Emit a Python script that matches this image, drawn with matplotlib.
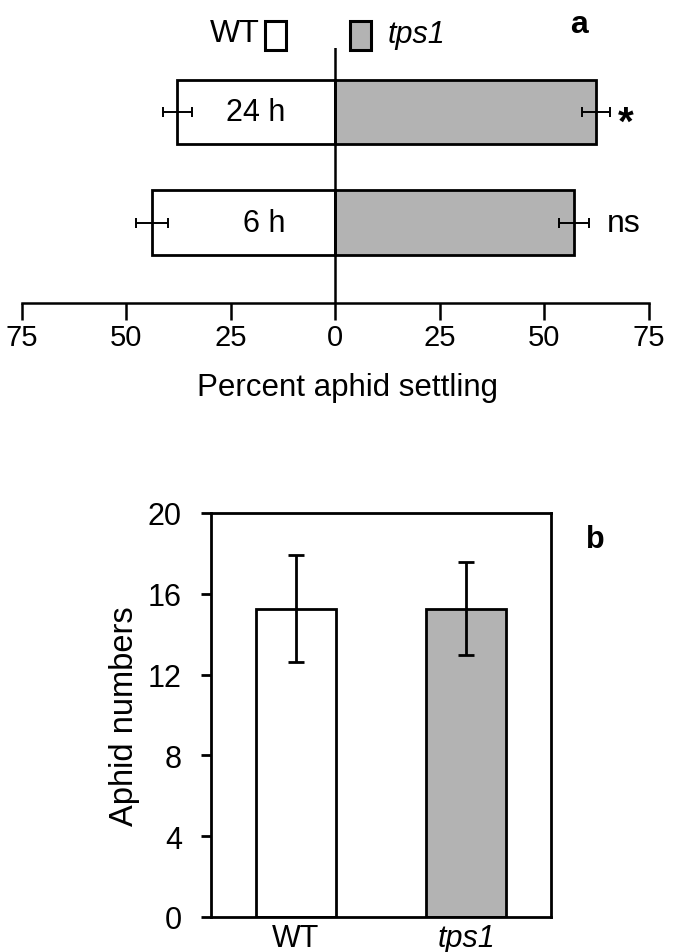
import numpy as np
import matplotlib
matplotlib.use("Agg")
import matplotlib.pyplot as plt
from matplotlib.patches import Rectangle

plt.rcParams['font.family'] = ['Liberation Sans', 'DejaVu Sans']

# panel a: percent aphid settling (WT left, tps1 right)
times = ["6 h", "24 h"]
wt_settle = [43.8, 37.8]
wt_settle_err = [3.8, 3.5]
tps1_settle = [57.2, 62.4]
tps1_settle_err = [3.6, 3.4]
signif = ["ns", "*"]
a_ticks = [-75, -50, -25, 0, 25, 50, 75]

# panel b: aphid numbers
genotypes = ["WT", "tps1"]
aphid_num = [15.25, 15.25]
aphid_err = [2.65, 2.3]
b_ticks = [0, 4, 8, 12, 16, 20]

grey = "#b3b3b3"
W, H = 674, 953
fig = plt.figure(figsize=(W / 100, H / 100), dpi=100)

# ---------- panel a ----------
ax = fig.add_axes([21.7 / W, (H - 304) / H, 627 / W, 255 / H])
ypos = np.arange(len(times))
ax.barh(ypos, [-v for v in wt_settle], height=0.58, color="white",
        edgecolor="black", linewidth=2)
ax.barh(ypos, tps1_settle, height=0.58, color=grey,
        edgecolor="black", linewidth=2)
ax.errorbar([-v for v in wt_settle], ypos, xerr=wt_settle_err, fmt="none",
            ecolor="black", elinewidth=1.4, capsize=3.8, capthick=1.4)
ax.errorbar(tps1_settle, ypos, xerr=tps1_settle_err, fmt="none",
            ecolor="black", elinewidth=1.4, capsize=3.8, capthick=1.4)
ax.axvline(0, color="black", linewidth=1.8)
for y, t in zip(ypos, times):
    ax.text(-12, y, t, ha="right", va="center", fontsize=22)
ax.text(65, ypos[0], signif[0], ha="left", va="center", fontsize=23)
ax.text(69.5, ypos[1] - 0.2, signif[1], ha="center", va="baseline",
        fontsize=29, weight="bold")

ax.set_xlim(-75, 75)
ax.set_ylim(-0.728, 1.579)
ax.set_yticks([])
ax.set_xticks(a_ticks)
ax.set_xticklabels([str(abs(t)) for t in a_ticks])
for s in ["left", "right", "top"]:
    ax.spines[s].set_visible(False)
ax.spines["bottom"].set_linewidth(1.8)
ax.tick_params(axis="x", direction="out", length=12.2, width=1.8,
               labelsize=21, pad=2)
ax.set_xlabel("Percent aphid settling", fontsize=22.5, va="top")
ax.xaxis.set_label_coords(0.52, -0.271)

# legend boxes and labels
fig.text(260 / W, 1 - 34 / H, "WT", ha="right", va="center", fontsize=23)
fig.patches.append(Rectangle((265 / W, 1 - 51 / H), 21 / W, 29 / H,
                             transform=fig.transFigure, facecolor="white",
                             edgecolor="black", linewidth=2.2))
fig.patches.append(Rectangle((350 / W, 1 - 51 / H), 21 / W, 29 / H,
                             transform=fig.transFigure, facecolor=grey,
                             edgecolor="black", linewidth=2.2))
fig.text(388 / W, 1 - 35 / H, "tps1", ha="left", va="center", fontsize=22,
         style="italic")
fig.text(579 / W, 1 - 25 / H, "a", ha="center", va="center", fontsize=23,
         weight="bold")

# ---------- panel b ----------
bx = fig.add_axes([211 / W, (H - 918) / H, 340 / W, 404 / H])
xpos = np.arange(len(genotypes))
bx.bar(xpos, aphid_num, width=0.475, color=["white", grey],
       edgecolor="black", linewidth=2)
bx.errorbar(xpos, aphid_num, yerr=aphid_err, fmt="none", ecolor="black",
            elinewidth=2, capsize=5.5, capthick=2)
bx.set_xlim(-0.5, 1.5)
bx.set_ylim(0, 20)
bx.set_yticks(b_ticks)
bx.set_xticks(xpos)
bx.set_xticklabels(genotypes)
bx.get_xticklabels()[1].set_style("italic")
for s in bx.spines.values():
    s.set_linewidth(2)
bx.tick_params(axis="y", direction="out", length=7, width=2,
               labelsize=22, pad=14)
bx.tick_params(axis="x", length=0, labelsize=22, pad=4)
bx.set_ylabel("Aphid numbers", fontsize=23.5, labelpad=6)
fig.text(595 / W, 1 - 540 / H, "b", ha="center", va="center", fontsize=22,
         weight="bold")

fig.savefig("out.png", dpi=100)
